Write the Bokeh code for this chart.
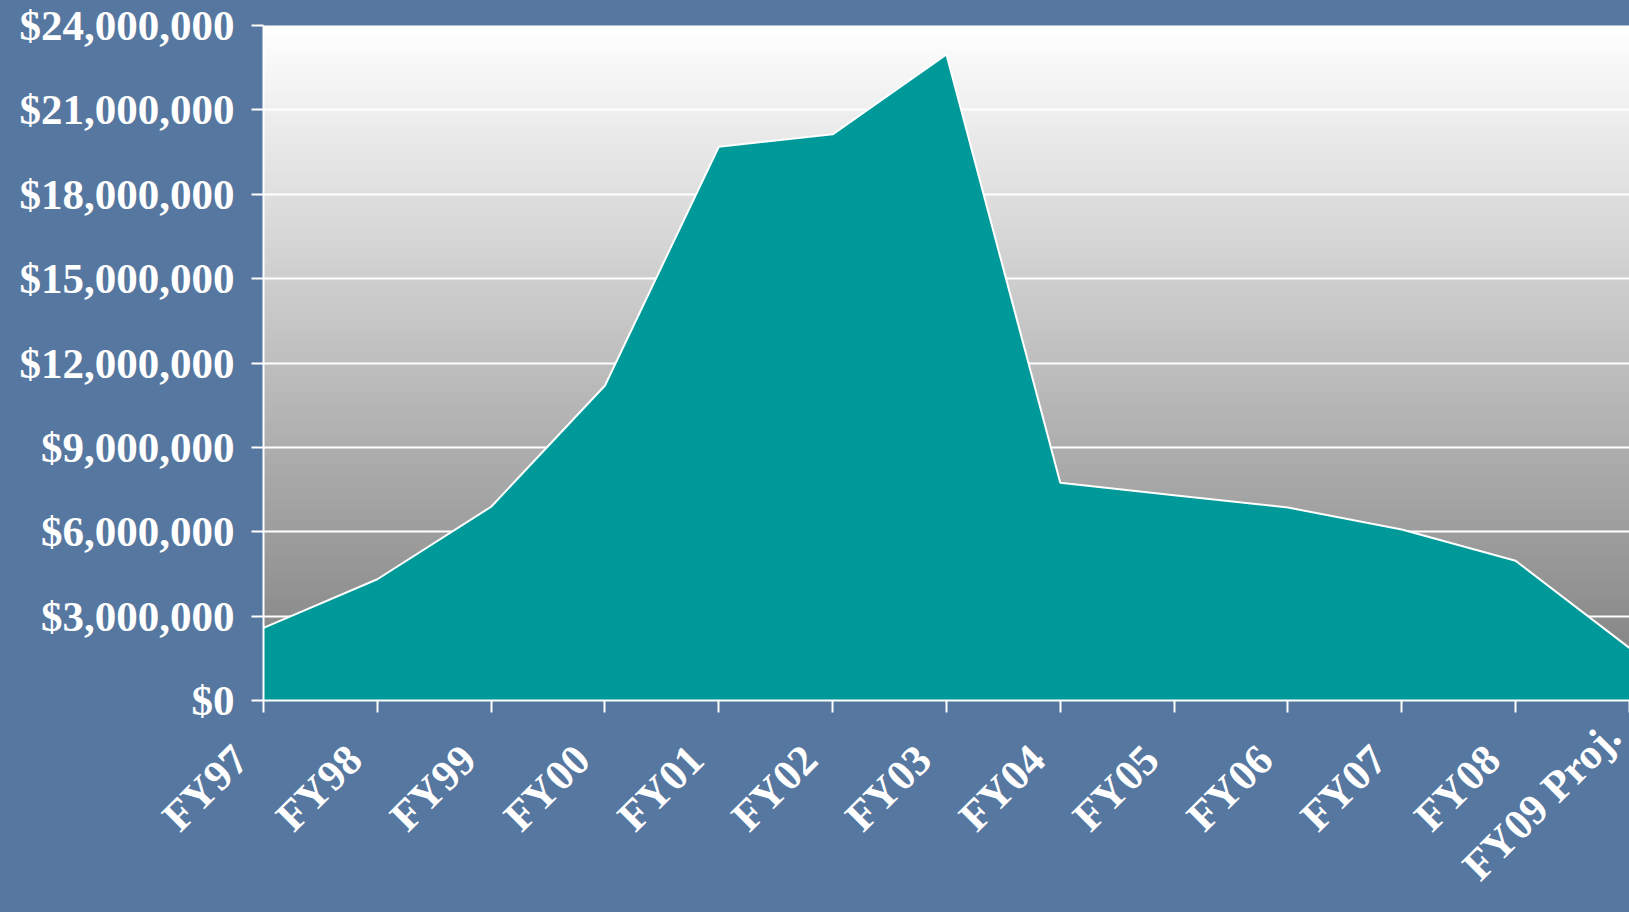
import math
from bokeh.plotting import figure
from bokeh.models import Range1d, FixedTicker, NumeralTickFormatter
from bokeh.embed import file_html
from bokeh.resources import INLINE

years = ["FY97", "FY98", "FY99", "FY00", "FY01", "FY02", "FY03",
         "FY04", "FY05", "FY06", "FY07", "FY08", "FY09 Proj."]
amounts = [2580000, 4310000, 6890000, 11200000, 19690000, 20130000, 22970000,
           7740000, 7300000, 6860000, 6080000, 4970000, 1870000]
y_ticks = [0, 3000000, 6000000, 9000000, 12000000, 15000000, 18000000, 21000000, 24000000]

BG = "#56779f"
TEAL = "#009999"
FONT = "Liberation Serif"
PAD = "\u00a0\u00a0\u00a0"

xs = list(range(len(years)))
x_end = 12.001
y_max = 24000000

p = figure(width=1629, height=912, output_backend="svg", toolbar_location=None,
           x_range=Range1d(0, x_end), y_range=Range1d(0, y_max),
           min_border_left=263, min_border_right=0, min_border_top=25,
           min_border_bottom=212)
p.border_fill_color = BG
p.background_fill_color = BG
p.outline_line_color = None

# gradient background (white top -> gray bottom)
n = 225
bots, tops, cols = [], [], []
for i in range(n):
    b = y_max * i / n
    t = y_max * (i + 1) / n + y_max * 0.002
    f = 1 - (i + 0.5) / n
    g = int(round(255 - f * 130))
    bots.append(b)
    tops.append(t)
    cols.append("#%02x%02x%02x" % (g, g, g))
grad = p.quad(left=0, right=x_end, bottom=bots, top=tops, fill_color=cols, line_color=None)
grad.level = "image"

p.varea(x=xs, y1=[0] * len(xs), y2=amounts, fill_color=TEAL)
p.line(x=xs, y=amounts, line_color="white", line_width=2)

p.xgrid.grid_line_color = None
p.ygrid.grid_line_color = "white"
p.ygrid.grid_line_width = 2
p.ygrid.ticker = FixedTicker(ticks=y_ticks)

p.yaxis.ticker = FixedTicker(ticks=y_ticks)
p.yaxis.formatter = NumeralTickFormatter(format="$0,0")
p.xaxis.ticker = FixedTicker(ticks=xs)
# the last (longest) label gets no padding so the axis fits the page height
p.xaxis.major_label_overrides = {i: (y + PAD if i < len(years) - 1 else y)
                                 for i, y in enumerate(years)}
p.xaxis.major_label_orientation = math.pi / 4

for ax in (p.xaxis[0], p.yaxis[0]):
    ax.axis_line_color = "white"
    ax.axis_line_width = 2
    ax.major_tick_line_color = "white"
    ax.major_tick_line_width = 2
    ax.major_tick_out = 12
    ax.major_tick_in = 0
    ax.minor_tick_line_color = None
    ax.major_label_text_color = "white"
    ax.major_label_text_font = FONT
    ax.major_label_text_font_style = "bold"
    ax.major_label_text_font_size = "43px"

p.yaxis.major_label_standoff = 17
p.xaxis.major_label_standoff = 17

html = file_html(p, INLINE)
html = html.replace("</head>", "<style>html,body{background:%s;}</style></head>" % BG, 1)
open("out.html", "w").write(html)
